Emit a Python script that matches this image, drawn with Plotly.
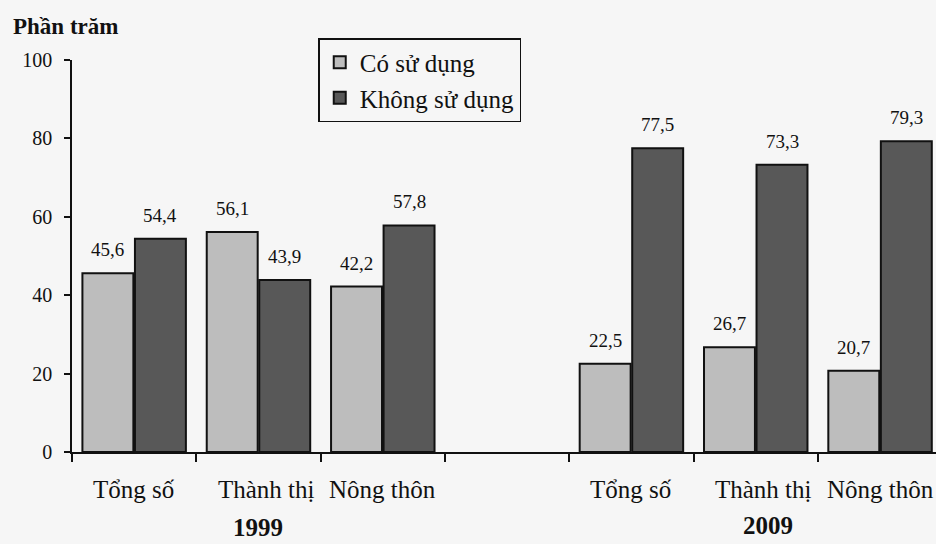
import plotly.graph_objects as go

# ---- data ----
groups = ["1999", "2009"]
categories = ["Tổng số", "Thành thị", "Nông thôn"]
co_su_dung_1999 = [45.6, 56.1, 42.2]
khong_su_dung_1999 = [54.4, 43.9, 57.8]
co_su_dung_2009 = [22.5, 26.7, 20.7]
khong_su_dung_2009 = [77.5, 73.3, 79.3]
series_names = ["Có sử dụng", "Không sử dụng"]
y_ticks = [0, 20, 40, 60, 80, 100]

# x positions: three categories, an empty slot, three categories
x_pos = [0, 1, 2, 4, 5, 6]
x_labels = categories + categories
co = co_su_dung_1999 + co_su_dung_2009
khong = khong_su_dung_1999 + khong_su_dung_2009

FONT = "Liberation Serif, Times New Roman, serif"
BG = "#f6f6f6"
LIGHT = "#bdbdbd"
DARK = "#585858"
BARGAP = 0.155

def fmt(v):
    return f"{v:.1f}".replace(".", ",")

fig = go.Figure()
fig.add_trace(go.Bar(x=x_pos, y=co, name=series_names[0],
                     marker=dict(color=LIGHT, line=dict(color="#111", width=2))))
fig.add_trace(go.Bar(x=x_pos, y=khong, name=series_names[1],
                     marker=dict(color=DARK, line=dict(color="#111", width=2))))

annotations = []
half = (1 - BARGAP) / 4
for xi, a, b in zip(x_pos, co, khong):
    for off, v in ((-half, a), (half, b)):
        annotations.append(dict(x=xi + off, y=v, xref="x", yref="y", text=fmt(v),
                                showarrow=False, yanchor="bottom", yshift=11,
                                font=dict(family=FONT, size=19, color="#111")))
for xi, lab in zip(x_pos, x_labels):
    annotations.append(dict(x=xi, y=0, xref="x", yref="paper", text=lab,
                            showarrow=False, yanchor="middle", yshift=-37,
                            xshift=8 if lab == "Thành thị" else 0,
                            font=dict(family=FONT, size=25, color="#111")))
annotations.append(dict(x=1, y=0, xref="x", yref="paper", text="<b>" + groups[0] + "</b>",
                        showarrow=False, yanchor="middle", yshift=-75,
                        font=dict(family=FONT, size=25, color="#111")))
annotations.append(dict(x=5.1, y=0, xref="x", yref="paper", text="<b>" + groups[1] + "</b>",
                        showarrow=False, yanchor="middle", yshift=-73,
                        font=dict(family=FONT, size=25, color="#111")))
annotations.append(dict(x=0, y=1, xref="paper", yref="paper", text="<b>Phần trăm</b>",
                        showarrow=False, xanchor="left", yanchor="middle",
                        xshift=-61, yshift=34,
                        font=dict(family=FONT, size=23, color="#111")))

fig.update_layout(
    width=936, height=544,
    margin=dict(l=72, r=0, t=60, b=92),
    paper_bgcolor=BG, plot_bgcolor=BG,
    barmode="group", bargap=BARGAP, bargroupgap=0.03,
    font=dict(family=FONT, color="#111"),
    showlegend=True,
    legend=dict(x=0.285, xanchor="left", y=1.056, yanchor="top",
                bgcolor=BG, bordercolor="#111", borderwidth=1.5,
                font=dict(family=FONT, size=25, color="#111"),
                itemwidth=30),
    annotations=annotations,
    xaxis=dict(range=[-0.5, 6.45], tickmode="array",
               tickvals=[-0.5, 0.5, 1.5, 2.5, 3.5, 4.5, 5.5],
               showticklabels=False, ticks="outside", ticklen=8, tickwidth=1.5,
               tickcolor="#111", showline=True, linecolor="#111", linewidth=1.5,
               showgrid=False, zeroline=False, fixedrange=True),
    yaxis=dict(range=[0, 100], tickmode="array", tickvals=y_ticks,
               ticks="outside", ticklen=6, tickwidth=1.5, tickcolor="#111",
               showline=True, linecolor="#111", linewidth=1.5,
               showgrid=False, zeroline=False,
               tickfont=dict(family=FONT, size=20, color="#111"),
               ticklabelstandoff=8),
)

fig.write_html("out.html", config={"displayModeBar": False},
               post_script="document.body.style.margin='0';document.body.style.overflow='hidden';")
